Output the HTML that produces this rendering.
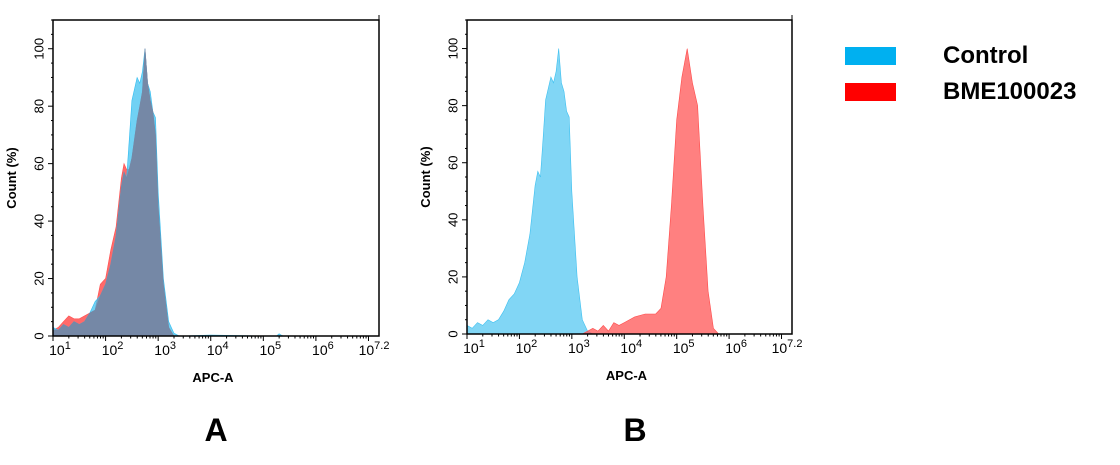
<!DOCTYPE html>
<html><head><meta charset="utf-8"><style>
body{margin:0;background:#fff;width:1120px;height:460px;overflow:hidden;font-family:"Liberation Sans",Arial,sans-serif}
svg text{font-family:"Liberation Sans",Arial,sans-serif}
</style></head><body>
<svg id="chart" width="1120" height="460">
<g>
<rect x="845" y="47" width="51" height="18" fill="#00b0f0"/>
<text x="943" y="63" font-size="24" font-weight="bold">Control</text>
<rect x="845" y="83" width="51" height="18" fill="#ff0000"/>
<text x="943" y="99" font-size="24" font-weight="bold">BME100023</text>
</g>
<text x="216" y="441" font-size="32" font-weight="bold" text-anchor="middle">A</text>
<text x="635" y="441" font-size="32" font-weight="bold" text-anchor="middle">B</text>
</svg>
<script>
const xsA=[0.9,1.0,1.1,1.2,1.3,1.4,1.5,1.6,1.7,1.8,1.9,2.0,2.1,2.2,2.3,2.35,2.4,2.45,2.5,2.6,2.65,2.7,2.75,2.8,2.85,2.9,2.95,3.0,3.1,3.2,3.3,3.4,4.0,5.0,5.25,5.3,5.35,5.4,7.2];
const controlA=[5,3,2,4,3,5,4,5,8,12,14,18,25,35,52,57,55,68,82,90,88,92,100,88,85,78,76,50,20,5,1,0,0.3,0,0,0.8,0.2,0,0];
const bmeA=[2,2,3,5,7,6,6,7,8,9,18,20,30,38,55,60,58,58,62,75,80,85,100,88,82,78,70,45,18,3,0,0,0,0,0,0,0,0,0];
const xsB=[0.9,1.0,1.1,1.2,1.3,1.4,1.5,1.6,1.7,1.8,1.9,2.0,2.1,2.2,2.3,2.35,2.4,2.45,2.5,2.6,2.65,2.7,2.75,2.8,2.85,2.9,2.95,3.0,3.1,3.2,3.3,3.4,3.5,3.6,3.7,3.8,3.9,4.0,4.2,4.4,4.6,4.7,4.8,4.9,5.0,5.1,5.2,5.3,5.4,5.5,5.6,5.7,5.8,7.2];
const controlB=[5,3,2,4,3,5,4,5,8,12,14,18,25,35,52,57,55,68,82,90,88,92,100,88,85,78,76,50,20,5,1,0,0,0,0,0,0,0,0,0,0,0,0,0,0,0,0,0,0,0,0,0,0,0];
const bmeB=[0,0,0,0,0,0,0,0,0,0,0,0,0,0,0,0,0,0,0,0,0,0,0,0,0,0,0,0,0,0,1,2,1,3,1,4,3,4,6,7,7,9,20,45,75,90,100,88,80,45,15,2,0,0];
const yTicks=[0,20,40,60,80,100];
const xTicks=[1,2,3,4,5,6];
const NS="http://www.w3.org/2000/svg";
const svg=document.getElementById('chart');
function mk(tag,attrs,parent){const e=document.createElementNS(NS,tag);for(const k in attrs)e.setAttribute(k,attrs[k]);(parent||svg).appendChild(e);return e;}
function panel(name,L,R,T,B,xs,ctrl,bme,overlap){
  const g=mk('g',{});
  
  
  const xScale=v=>L+(v-1)/(6.2)*(R-L);
  const yScale=v=>B-(v/110)*(B-T);
  function area(vals,fill,op,nm){
    let d='M'+Math.max(L,xScale(xs[0]))+','+B;
    xs.forEach((x,i)=>{const xx=Math.max(L,xScale(x));d+=' L'+xx.toFixed(1)+','+yScale(vals[i]).toFixed(1);});
    d+=' L'+xScale(xs[xs.length-1])+','+B+' Z';
    const p=mk('path',{d:d,fill:fill,'fill-opacity':op,stroke:fill,'stroke-width':0.6},g);
    
    
  }
  if(overlap){
    area(bme,'#ff5050',0.85,'series-bme100023');
    area(ctrl,'#33bdf0',0.7,'series-control');
    area(xs.map((x,i)=>Math.min(ctrl[i],bme[i])),'#7588a6',1,'series-overlap');
  }else{
    area(ctrl,'#3dc0f0',0.65,'series-control');
    area(bme,'#ff4a4a',0.7,'series-bme100023');
  }
  const fr=mk('rect',{x:L,y:T,width:R-L,height:B-T,fill:'none',stroke:'#000','stroke-width':1.5},g);
  
  
  mk('line',{x1:R,y1:T,x2:R,y2:T-5,stroke:'#000'},g);
  for(let v=0;v<=110;v+=5){mk('line',{x1:L-(v%20==0?5:2),y1:yScale(v),x2:L,y2:yScale(v),stroke:'#000'},g);}
  yTicks.forEach(v=>{
    const t=mk('text',{x:L-14,y:yScale(v),'font-size':13,'text-anchor':'middle',transform:`rotate(-90 ${L-14} ${yScale(v)})`,dy:'0.35em'},g);
    t.textContent=v;
    
    
  });
  for(let d=1;d<7.2;d++){
    mk('line',{x1:xScale(d),y1:B,x2:xScale(d),y2:B+5,stroke:'#000'},g);
    for(let m=2;m<10;m++){const lv=d+Math.log10(m);if(lv<=7.2)mk('line',{x1:xScale(lv),y1:B,x2:xScale(lv),y2:B+2.5,stroke:'#000'},g);}
  }
  const labs=xTicks.map(v=>['10',String(v)]).concat([['10','7.2']]);
  const pos=xTicks.concat([7.2]);
  labs.forEach((l,i)=>{
    const x=Math.min(xScale(pos[i])+7,R-5);
    const t=mk('text',{x:x,y:B+19,'font-size':14,'text-anchor':'middle'},g);
    
    
    const a=document.createElementNS(NS,'tspan');a.textContent=l[0];t.appendChild(a);
    const b=document.createElementNS(NS,'tspan');b.setAttribute('dy','-6');b.setAttribute('font-size','11');b.textContent=l[1];t.appendChild(b);
  });
  const xt=mk('text',{x:(L+R)/2-3,y:B+46,'font-size':13,'font-weight':'bold','text-anchor':'middle'},g);
  xt.textContent='APC-A';
  
  
  const yx=L-37,yy=(T+B)/2;
  const yt=mk('text',{x:yx,y:yy,'font-size':13,'font-weight':'bold','text-anchor':'middle',transform:`rotate(-90 ${yx} ${yy})`},g);
  yt.textContent='Count  (%)';
  
  
}
panel('panel-a',53,379,20,336,xsA,controlA,bmeA,true);
panel('panel-b',467,792,20,334,xsB,controlB,bmeB,false);
</script>
</body></html>
